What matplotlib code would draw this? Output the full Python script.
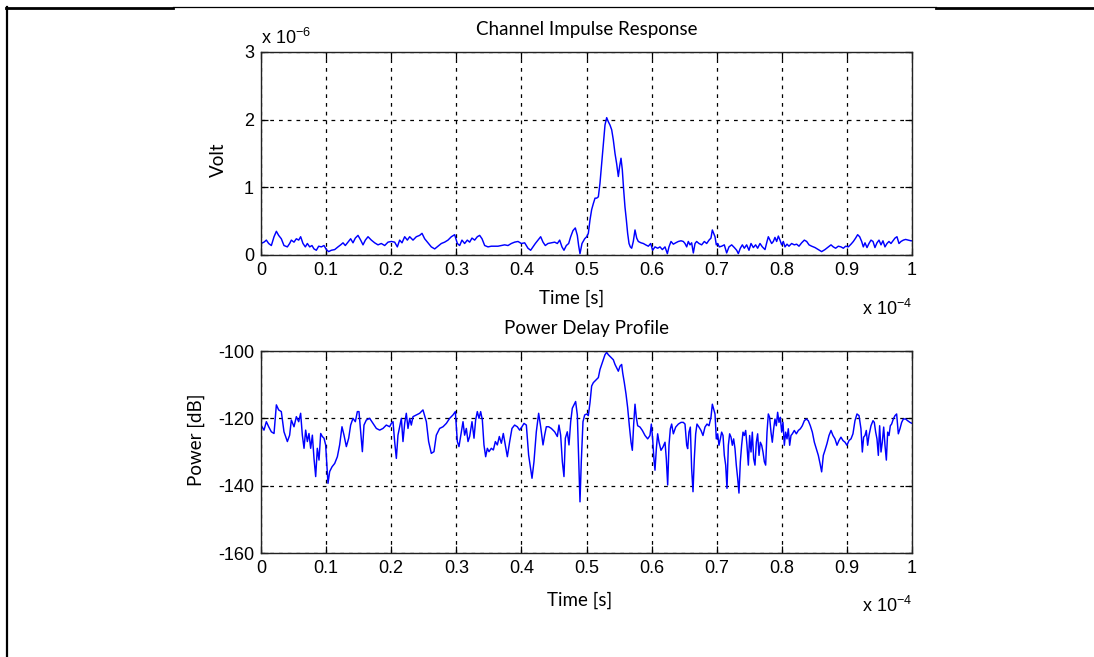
import numpy as np
import matplotlib
matplotlib.use('Agg')
import matplotlib.pyplot as plt
from matplotlib.lines import Line2D
from matplotlib.ticker import FixedLocator, FixedFormatter

plt.rcParams['font.family'] = ['Liberation Sans', 'DejaVu Sans']
plt.rcParams['mathtext.fontset'] = 'custom'
plt.rcParams['mathtext.rm'] = 'Liberation Sans'
plt.rcParams['mathtext.it'] = 'Liberation Sans'

# ---------------- data ----------------
# Channel impulse response: time in microseconds, amplitude in microvolts
t_volt_us = [
    0.0,
    0.46, 0.82, 1.18, 1.59, 2.00, 2.36, 2.71, 3.12, 3.53, 4.05,
    4.40, 4.66, 5.07, 5.43, 5.79, 6.09, 6.45, 6.81, 7.12, 7.48,
    7.83, 8.14, 8.50, 8.86, 9.27, 9.68, 10.04, 10.39, 10.80, 11.32,
    11.83, 12.24, 12.60, 12.95, 13.36, 13.77, 14.13, 14.49, 14.90, 15.31,
    15.67, 16.03, 16.44, 16.95, 17.46, 17.97, 18.48, 19.00, 19.51, 20.02,
    20.53, 20.94, 21.30, 21.66, 22.07, 22.48, 22.84, 23.35, 23.86, 24.37,
    24.73, 25.14, 25.65, 26.16, 26.68, 27.19, 27.70, 28.21, 28.72, 29.24,
    29.75, 30.16, 30.52, 30.87, 31.28, 31.69, 32.05, 32.41, 32.82, 33.23,
    33.59, 33.95, 34.36, 34.87, 35.38, 35.89, 36.40, 36.92, 37.43, 37.94,
    38.45, 38.96, 39.48, 39.99, 40.50, 41.01, 41.42, 41.78, 42.14, 42.55,
    42.96, 43.32, 43.67, 44.08, 44.60, 45.11, 45.52, 45.88, 46.23, 46.54,
    46.90, 47.26, 47.57, 47.92, 48.28, 48.59, 48.79, 49.00, 49.31, 49.72,
    50.03, 50.28, 50.54, 50.79, 51.05, 51.31, 51.56, 51.82, 52.07, 52.33,
    52.59, 52.84, 53.10, 53.35, 53.61, 53.87, 54.12, 54.38, 54.63, 54.89,
    55.09, 55.30, 55.50, 55.71, 55.91, 56.12, 56.32, 56.53, 56.73, 56.94,
    57.19, 57.45, 57.71, 57.96, 58.37, 58.73, 59.09, 59.50, 59.86, 60.16,
    60.52, 60.93, 61.29, 61.65, 62.06, 62.42, 62.67, 62.98, 63.34, 63.70,
    64.11, 64.52, 64.87, 65.13, 65.39, 65.64, 65.90, 66.15, 66.41, 66.67,
    66.92, 67.28, 67.69, 68.10, 68.46, 68.82, 69.12, 69.33, 69.53, 69.74,
    69.94, 70.15, 70.40, 70.76, 71.17, 71.53, 71.89, 72.30, 72.71, 73.07,
    73.32, 73.63, 73.94, 74.24, 74.60, 74.96, 75.27, 75.63, 75.98, 76.29,
    76.65, 77.01, 77.42, 77.73, 77.93, 78.19, 78.44, 78.70, 78.95, 79.21,
    79.47, 79.72, 79.98, 80.23, 80.49, 80.80, 81.10, 81.51, 81.92, 82.28,
    82.64, 83.05, 83.46, 83.82, 84.18, 84.59, 85.10, 85.61, 86.12, 86.63,
    87.15, 87.56, 87.91, 88.27, 88.68, 89.09, 89.45, 89.81, 90.22, 90.63,
    90.99, 91.34, 91.65, 91.96, 92.27, 92.52, 92.78, 93.09, 93.39, 93.70,
    94.01, 94.31, 94.62, 94.93, 95.24, 95.54, 95.85, 96.16, 96.46, 96.77,
    97.08, 97.39, 97.69, 98.00, 98.31, 98.67, 99.02, 99.43, 99.84,
    100.0,
]
volt_uv = [
    0.17,
    0.19, 0.22, 0.17, 0.14, 0.27, 0.35, 0.29, 0.24, 0.14, 0.12,
    0.17, 0.22, 0.19, 0.24, 0.22, 0.27, 0.17, 0.12, 0.17, 0.12,
    0.14, 0.09, 0.07, 0.13, 0.12, 0.14, 0.08, 0.05, 0.07, 0.08,
    0.12, 0.15, 0.18, 0.14, 0.19, 0.24, 0.18, 0.25, 0.29, 0.22,
    0.15, 0.22, 0.27, 0.22, 0.18, 0.15, 0.17, 0.14, 0.19, 0.20,
    0.19, 0.12, 0.22, 0.18, 0.27, 0.22, 0.27, 0.22, 0.27, 0.29,
    0.32, 0.24, 0.18, 0.12, 0.09, 0.13, 0.17, 0.19, 0.22, 0.27,
    0.30, 0.17, 0.14, 0.22, 0.17, 0.22, 0.19, 0.25, 0.22, 0.27,
    0.29, 0.24, 0.14, 0.12, 0.13, 0.13, 0.13, 0.14, 0.15, 0.14,
    0.17, 0.19, 0.20, 0.17, 0.18, 0.10, 0.07, 0.12, 0.17, 0.22,
    0.27, 0.19, 0.14, 0.17, 0.18, 0.19, 0.17, 0.22, 0.12, 0.07,
    0.14, 0.17, 0.27, 0.36, 0.40, 0.29, 0.14, 0.02, 0.17, 0.24,
    0.27, 0.32, 0.52, 0.67, 0.76, 0.84, 0.84, 0.86, 1.06, 1.35,
    1.65, 1.92, 2.03, 1.97, 1.92, 1.85, 1.70, 1.50, 1.35, 1.16,
    1.31, 1.43, 1.26, 0.96, 0.71, 0.52, 0.32, 0.17, 0.12, 0.10,
    0.20, 0.37, 0.25, 0.20, 0.18, 0.17, 0.15, 0.13, 0.17, 0.07,
    0.12, 0.10, 0.12, 0.08, 0.12, 0.02, 0.12, 0.20, 0.16, 0.18,
    0.20, 0.21, 0.20, 0.17, 0.12, 0.20, 0.15, 0.18, 0.03, 0.17,
    0.20, 0.17, 0.15, 0.20, 0.17, 0.22, 0.25, 0.37, 0.32, 0.27,
    0.15, 0.17, 0.12, 0.13, 0.15, 0.03, 0.12, 0.15, 0.11, 0.07,
    0.02, 0.10, 0.15, 0.10, 0.15, 0.07, 0.17, 0.11, 0.15, 0.10,
    0.17, 0.12, 0.08, 0.20, 0.27, 0.22, 0.17, 0.20, 0.26, 0.20,
    0.28, 0.22, 0.15, 0.20, 0.12, 0.16, 0.13, 0.17, 0.15, 0.16,
    0.13, 0.18, 0.22, 0.20, 0.15, 0.13, 0.11, 0.08, 0.05, 0.08,
    0.12, 0.15, 0.12, 0.10, 0.13, 0.12, 0.10, 0.13, 0.12, 0.16,
    0.20, 0.25, 0.30, 0.27, 0.20, 0.12, 0.18, 0.11, 0.17, 0.22,
    0.20, 0.11, 0.18, 0.22, 0.15, 0.21, 0.12, 0.17, 0.20, 0.17,
    0.21, 0.25, 0.27, 0.17, 0.20, 0.22, 0.23, 0.22, 0.21,
    0.21,
]

# Power delay profile: time in microseconds, power in dB
t_power_us = [
    0.0,
    0.46, 0.82, 1.18, 1.59, 2.00, 2.36, 2.71, 3.12, 3.53, 4.05,
    4.40, 4.66, 5.07, 5.43, 5.79, 6.09, 6.35, 6.61, 6.86, 7.12,
    7.37, 7.63, 7.89, 8.14, 8.40, 8.65, 8.91, 9.17, 9.42, 9.68,
    9.93, 10.29, 10.55, 10.91, 11.32, 11.73, 12.08, 12.44, 12.75, 13.11,
    13.47, 13.77, 14.13, 14.49, 14.80, 15.05, 15.31, 15.57, 15.82, 16.18,
    16.69, 17.20, 17.72, 18.23, 18.74, 19.25, 19.76, 20.02, 20.28, 20.53,
    20.79, 21.04, 21.30, 21.56, 21.81, 22.07, 22.32, 22.58, 22.84, 23.09,
    23.35, 23.86, 24.37, 24.88, 25.40, 25.75, 26.16, 26.57, 26.93, 27.44,
    27.96, 28.47, 28.98, 29.49, 29.85, 30.16, 30.41, 30.77, 31.03, 31.28,
    31.54, 31.80, 32.05, 32.41, 32.72, 32.97, 33.23, 33.49, 33.74, 34.00,
    34.25, 34.51, 34.77, 35.02, 35.38, 35.69, 36.00, 36.30, 36.61, 36.92,
    37.22, 37.53, 37.84, 38.20, 38.55, 38.96, 39.37, 39.73, 40.09, 40.40,
    40.76, 41.11, 41.42, 41.63, 41.93, 42.29, 42.65, 42.96, 43.32, 43.57,
    43.83, 44.19, 44.60, 45.11, 45.52, 45.77, 46.03, 46.29, 46.54, 46.75,
    47.05, 47.31, 47.57, 47.82, 48.08, 48.33, 48.59, 48.79, 49.00, 49.20,
    49.46, 49.72,
    50.03, 50.28, 50.54, 50.79, 51.05, 51.31, 51.56, 51.82, 52.07, 52.33,
    52.59, 52.84, 53.10, 53.35, 53.61, 53.87, 54.12, 54.38, 54.63, 54.89,
    55.15, 55.40, 55.56, 55.81, 56.07, 56.32, 56.58, 56.84, 57.04, 57.25,
    57.45, 57.65, 57.86, 58.22, 58.58, 58.99, 59.40, 59.75, 59.96, 60.16,
    60.37, 60.52, 60.73, 60.93, 61.14, 61.44, 61.75, 62.06, 62.26, 62.47,
    62.67, 62.88, 63.08, 63.34, 63.70, 64.11, 64.52, 64.87, 65.13, 65.39,
    65.54, 65.74, 65.95, 66.15, 66.36, 66.56, 66.77, 66.97, 67.28, 67.59,
    67.89, 68.20, 68.51, 68.82, 69.12, 69.33, 69.53, 69.74, 69.94, 70.15,
    70.35, 70.56, 70.76, 70.97, 71.17, 71.38, 71.58, 71.79, 71.99, 72.20,
    72.40, 72.60, 72.81, 73.01, 73.22, 73.42, 73.63, 73.83, 74.04, 74.24,
    74.45, 74.65, 74.86, 75.06, 75.27, 75.47, 75.68, 75.88, 76.09, 76.29,
    76.50, 76.70, 76.91, 77.11, 77.32, 77.52, 77.73, 77.93, 78.13, 78.34,
    78.54, 78.75, 78.95, 79.16, 79.36, 79.57, 79.77, 79.98, 80.18, 80.39,
    80.59, 80.80, 81.00, 81.21, 81.41, 81.62, 81.92, 82.23, 82.54, 82.85,
    83.15, 83.46, 83.77, 84.07, 84.38, 84.69, 85.00, 85.30, 85.61, 85.87,
    86.12, 86.38, 86.63, 86.94, 87.25, 87.56, 87.86, 88.17, 88.48, 88.78,
    89.09, 89.40, 89.71, 90.01, 90.32, 90.63, 90.93, 91.24, 91.55, 91.86,
    92.16, 92.37, 92.57, 92.78, 92.98, 93.19, 93.39, 93.70, 94.01, 94.21,
    94.42, 94.62, 94.83, 95.03, 95.24, 95.44, 95.65, 95.85, 96.06, 96.26,
    96.47, 96.67, 96.87, 97.13, 97.39, 97.64, 97.90, 98.15, 98.41, 98.67,
    99.02, 99.33, 99.69,
    100.0,
]
power_db = [
    -122.0,
    -123.5, -121.0, -122.5, -124.0, -124.5, -116.0, -117.5, -118.0, -124.0, -126.9,
    -125.0, -120.5, -122.5, -119.5, -121.0, -118.5, -125.0, -128.9, -123.5, -126.9,
    -124.5, -128.9, -125.0, -131.9, -137.3, -128.9, -132.4, -124.5, -125.4, -125.9,
    -127.9, -139.3, -135.8, -134.4, -133.4, -131.4, -127.9, -122.5, -125.0, -128.4,
    -125.9, -122.0, -120.0, -121.0, -118.0, -118.0, -124.0, -129.9, -122.0, -120.5,
    -120.0, -121.5, -123.0, -123.5, -123.0, -122.0, -122.5, -121.5, -121.0, -126.9,
    -131.9, -125.0, -122.5, -120.0, -126.9, -121.5, -118.5, -123.0, -120.0, -122.0,
    -119.5, -119.0, -118.5, -117.5, -121.0, -126.9, -130.4, -129.9, -125.0, -123.0,
    -122.5, -121.5, -120.0, -119.0, -118.0, -126.9, -128.4, -124.0, -121.0, -125.0,
    -123.0, -126.9, -125.4, -121.0, -125.9, -120.5, -118.0, -120.0, -118.0, -120.5,
    -127.9, -131.4, -128.9, -129.9, -128.9, -129.4, -126.9, -127.9, -125.4, -127.4,
    -124.5, -127.9, -131.4, -126.9, -123.0, -122.0, -122.5, -123.5, -122.5, -121.5,
    -122.0, -130.9, -134.9, -137.8, -132.9, -124.0, -118.5, -122.5, -127.9, -125.0,
    -122.5, -122.5, -123.0, -124.0, -125.4, -122.0, -125.0, -132.9, -137.3, -125.9,
    -124.0, -127.9, -121.0, -117.0, -116.0, -115.0, -119.0, -131.9, -144.8, -132.9,
    -121.0, -119.0,
    -118.7, -119.2, -115.3, -110.4, -109.4, -108.9, -108.4, -107.9, -105.5, -104.0,
    -102.6, -101.1, -100.4, -101.1, -101.6, -102.1, -102.6, -104.0, -105.0, -106.0,
    -104.5, -104.0, -106.5, -109.4, -112.8, -116.8, -122.2, -127.1, -129.5, -121.7,
    -115.8, -119.7, -122.2, -122.6, -123.6, -125.1, -126.1, -125.1, -121.7, -126.1,
    -132.4, -135.4, -129.0, -124.6, -127.1, -129.5, -128.5, -127.1, -132.0, -139.8,
    -128.0, -123.1, -121.7, -124.6, -122.6, -121.7, -121.2, -121.2, -121.7, -128.0,
    -129.0, -124.1, -122.6, -134.9, -141.8, -132.0, -124.6, -121.7, -122.6, -123.6,
    -125.1, -122.6, -121.7, -122.2, -119.7, -115.8, -117.2, -118.7, -126.1, -124.6,
    -128.0, -126.1, -124.1, -125.1, -131.0, -133.9, -140.8, -128.0, -124.6, -125.6,
    -128.0, -126.1, -129.0, -133.9, -137.8, -142.2, -132.9, -128.0, -124.1, -125.1,
    -123.6, -128.0, -133.9, -125.1, -130.0, -124.1, -132.0, -133.9, -127.1, -124.6,
    -131.0, -127.1, -128.0, -130.0, -132.9, -133.9, -124.1, -118.7, -119.7, -124.1,
    -127.1, -123.1, -120.2, -122.2, -118.2, -121.2, -119.7, -124.1, -121.2, -128.0,
    -124.1, -126.1, -123.1, -128.0, -125.1, -124.6, -123.6, -124.6, -123.6, -123.1,
    -122.2, -120.7, -120.2, -120.7, -122.2, -124.1, -127.1, -129.0, -131.0, -133.4,
    -135.9, -131.0, -129.5, -127.5, -125.1, -123.6, -125.1, -126.1, -128.0, -126.6,
    -125.6, -126.6, -127.1, -128.0, -126.6, -126.1, -124.6, -120.7, -118.7, -119.2,
    -123.1, -130.0, -125.6, -125.1, -123.6, -128.0, -125.1, -122.2, -120.7, -121.2,
    -124.1, -126.1, -131.0, -122.2, -130.0, -127.1, -122.6, -128.0, -132.4, -124.1,
    -125.1, -122.2, -121.7, -120.2, -119.2, -118.7, -124.6, -123.1, -121.2, -120.2,
    -120.2, -120.7, -121.2,
    -121.5,
]

x_ticks = [0.0, 0.1, 0.2, 0.3, 0.4, 0.5, 0.6, 0.7, 0.8, 0.9, 1.0]   # x 1e-4 s
x_tick_labels = ['0', '0.1', '0.2', '0.3', '0.4', '0.5', '0.6', '0.7', '0.8', '0.9', '1']
volt_ticks = [0, 1, 2, 3]                                            # x 1e-6 V
volt_tick_labels = ['0', '1', '2', '3']
power_ticks = [-160, -140, -120, -100]
power_tick_labels = ['-160', '-140', '-120', '-100']

# ---------------- figure ----------------
W, H = 1094, 657
fig = plt.figure(figsize=(W / 100, H / 100), dpi=100)


def px_rect(l, t, r, b):
    return [l / W, 1 - b / H, (r - l) / W, (b - t) / H]


ax1 = fig.add_axes(px_rect(261, 52, 912, 255))
ax2 = fig.add_axes(px_rect(261, 351, 912, 553))

t_v = np.array(t_volt_us) * 1e-6
v = np.array(volt_uv) * 1e-6
t_p = np.array(t_power_us) * 1e-6
p = np.array(power_db)

ax1.plot(t_v, v, color='#0000ff', lw=1.05)
ax2.plot(t_p, p, color='#0000ff', lw=1.05)

label_font = ['Lato', 'DejaVu Sans']
label_size = 13.5
tick_size = 13

for ax in (ax1, ax2):
    ax.set_xlim(0, 1e-4)
    ax.xaxis.set_major_locator(FixedLocator([x * 1e-4 for x in x_ticks]))
    ax.xaxis.set_major_formatter(FixedFormatter(x_tick_labels))
    ax.grid(True, color='black', linestyle=(0, (3, 4)), linewidth=0.9)
    ax.tick_params(direction='in', top=True, right=True, length=5, width=0.9,
                   labelsize=tick_size, colors='black', pad=5)
    for s in ax.spines.values():
        s.set_linewidth(1.0)
        s.set_color('#222222')

ax1.set_ylim(0, 3e-6)
ax1.yaxis.set_major_locator(FixedLocator([y * 1e-6 for y in volt_ticks]))
ax1.yaxis.set_major_formatter(FixedFormatter(volt_tick_labels))
ax2.set_ylim(-160, -100)
ax2.yaxis.set_major_locator(FixedLocator(power_ticks))
ax2.yaxis.set_major_formatter(FixedFormatter(power_tick_labels))

ax1.set_title('Channel Impulse Response', fontfamily=label_font, fontsize=label_size, pad=12)
ax2.set_title('Power Delay Profile', fontfamily=label_font, fontsize=label_size, pad=12)

ax1.set_xlabel('Time [s]', fontfamily=label_font, fontsize=label_size)
ax1.xaxis.set_label_coords((572 - 261) / 651, (255 - 290) / 203)
ax2.set_xlabel('Time [s]', fontfamily=label_font, fontsize=label_size)
ax2.xaxis.set_label_coords((580 - 261) / 651, (553 - 592) / 202)

ax1.set_ylabel('Volt', fontfamily=label_font, fontsize=label_size)
ax1.yaxis.set_label_coords((227 - 261) / 651, (255 - 160) / 203)
ax2.set_ylabel('Power [dB]', fontfamily=label_font, fontsize=label_size)
ax2.yaxis.set_label_coords((205 - 261) / 651, (553 - 440) / 202)

# MATLAB-style exponent labels
fig.text(261 / W, 1 - 44 / H, r'x 10$^{\mathregular{-6}}$', fontsize=tick_size,
         ha='left', va='baseline')
fig.text(912 / W, 1 - 315 / H, r'x 10$^{\mathregular{-4}}$', fontsize=tick_size,
         ha='right', va='baseline')
fig.text(912 / W, 1 - 612 / H, r'x 10$^{\mathregular{-4}}$', fontsize=tick_size,
         ha='right', va='baseline')

# page border lines (document frame)
fig.add_artist(Line2D([7 / W, 7 / W], [0, 1 - 7 / H], transform=fig.transFigure,
                      color='black', lw=1.6))
fig.add_artist(Line2D([6 / W, 173 / W], [1 - 8 / H, 1 - 8 / H], transform=fig.transFigure,
                      color='black', lw=2.0))
fig.add_artist(Line2D([173 / W, 936 / W], [1 - 7 / H, 1 - 7 / H], transform=fig.transFigure,
                      color='black', lw=0.9))
fig.add_artist(Line2D([936 / W, 1 - 0.5 / W], [1 - 8 / H, 1 - 8 / H], transform=fig.transFigure,
                      color='black', lw=2.0))

fig.savefig('out.png', dpi=100)
